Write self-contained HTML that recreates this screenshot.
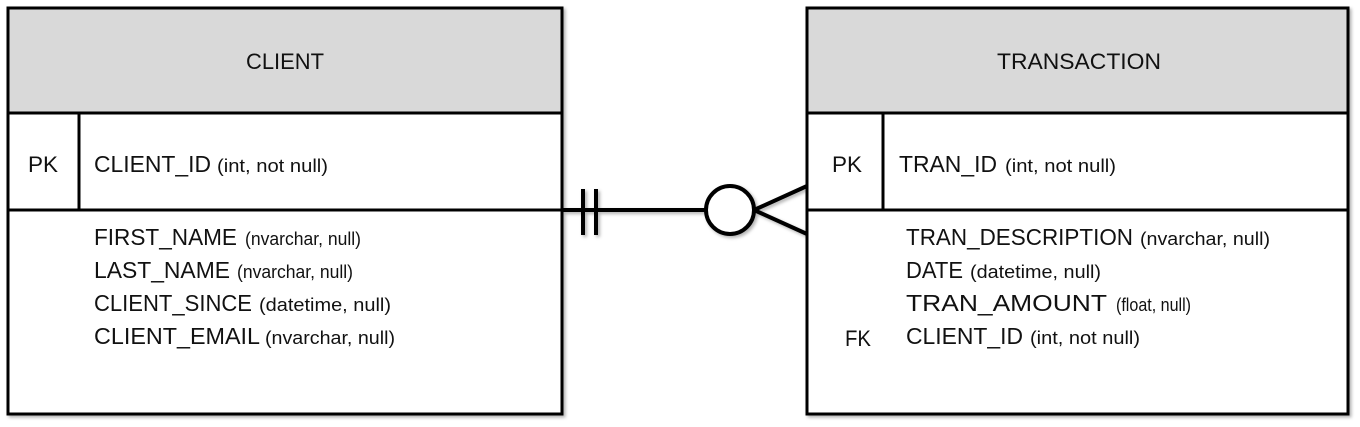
<!DOCTYPE html>
<html><head><style>body{margin:0;background:#fff}svg{display:block}text{font-family:"Liberation Sans",sans-serif;fill:#111}</style></head><body>
<svg width="1360" height="427" viewBox="0 0 1360 427" xmlns="http://www.w3.org/2000/svg">
<defs><filter id="sh" x="-5%" y="-5%" width="110%" height="110%"><feDropShadow dx="2" dy="2" stdDeviation="1.5" flood-color="#000" flood-opacity="0.3"/></filter></defs>
<g filter="url(#sh)">
<rect x="8" y="8" width="554" height="406" fill="#fff" stroke="#000" stroke-width="3"/>
<rect x="8" y="8" width="554" height="105" fill="#d9d9d9" stroke="#000" stroke-width="3"/>
<line x1="79" y1="113" x2="79" y2="210" stroke="#000" stroke-width="3"/>
<line x1="8" y1="210" x2="562" y2="210" stroke="#000" stroke-width="3"/>
<rect x="807" y="8" width="541" height="406" fill="#fff" stroke="#000" stroke-width="3"/>
<rect x="807" y="8" width="541" height="105" fill="#d9d9d9" stroke="#000" stroke-width="3"/>
<line x1="883" y1="113" x2="883" y2="210" stroke="#000" stroke-width="3"/>
<line x1="807" y1="210" x2="1348" y2="210" stroke="#000" stroke-width="3"/>
<line x1="562" y1="210" x2="706" y2="210" stroke="#000" stroke-width="4"/>
<line x1="583" y1="189" x2="583" y2="235" stroke="#000" stroke-width="4"/>
<line x1="596" y1="189" x2="596" y2="235" stroke="#000" stroke-width="4"/>
<circle cx="730" cy="210" r="24" fill="#fff" stroke="#000" stroke-width="4"/>
<line x1="754" y1="210" x2="807" y2="186" stroke="#000" stroke-width="4"/>
<line x1="754" y1="210" x2="807" y2="234" stroke="#000" stroke-width="4"/>
</g>
<g lengthAdjust="spacingAndGlyphs">
<text x="246" y="69" font-size="22" textLength="78" lengthAdjust="spacingAndGlyphs">CLIENT</text>
<text x="997" y="69" font-size="22" textLength="164" lengthAdjust="spacingAndGlyphs">TRANSACTION</text>
<text x="28" y="172" font-size="22" textLength="30" lengthAdjust="spacingAndGlyphs">PK</text>
<text x="832" y="172" font-size="22" textLength="30" lengthAdjust="spacingAndGlyphs">PK</text>
<text x="845" y="346" font-size="22" textLength="26" lengthAdjust="spacingAndGlyphs">FK</text>
</g>
<g font-size="23">
<text x="94" y="172" textLength="117" lengthAdjust="spacingAndGlyphs">CLIENT_ID</text>
<text x="94" y="245" textLength="143" lengthAdjust="spacingAndGlyphs">FIRST_NAME</text>
<text x="94" y="278" textLength="136" lengthAdjust="spacingAndGlyphs">LAST_NAME</text>
<text x="94" y="311" textLength="158" lengthAdjust="spacingAndGlyphs">CLIENT_SINCE</text>
<text x="94" y="344" textLength="166" lengthAdjust="spacingAndGlyphs">CLIENT_EMAIL</text>
<text x="899" y="172" textLength="98" lengthAdjust="spacingAndGlyphs">TRAN_ID</text>
<text x="906" y="245" textLength="227" lengthAdjust="spacingAndGlyphs">TRAN_DESCRIPTION</text>
<text x="906" y="278" textLength="57" lengthAdjust="spacingAndGlyphs">DATE</text>
<text x="906" y="311" textLength="201" lengthAdjust="spacingAndGlyphs">TRAN_AMOUNT</text>
<text x="906" y="344" textLength="117" lengthAdjust="spacingAndGlyphs">CLIENT_ID</text>
</g>
<g font-size="18">
<text x="217" y="172" textLength="111" lengthAdjust="spacingAndGlyphs">(int, not null)</text>
<text x="245" y="245" textLength="116" lengthAdjust="spacingAndGlyphs">(nvarchar, null)</text>
<text x="237" y="278" textLength="116" lengthAdjust="spacingAndGlyphs">(nvarchar, null)</text>
<text x="259" y="311" textLength="132" lengthAdjust="spacingAndGlyphs">(datetime, null)</text>
<text x="265" y="344" textLength="130" lengthAdjust="spacingAndGlyphs">(nvarchar, null)</text>
<text x="1005" y="172" textLength="111" lengthAdjust="spacingAndGlyphs">(int, not null)</text>
<text x="1140" y="245" textLength="130" lengthAdjust="spacingAndGlyphs">(nvarchar, null)</text>
<text x="970" y="278" textLength="131" lengthAdjust="spacingAndGlyphs">(datetime, null)</text>
<text x="1116" y="311" textLength="75" lengthAdjust="spacingAndGlyphs">(float, null)</text>
<text x="1030" y="344" textLength="110" lengthAdjust="spacingAndGlyphs">(int, not null)</text>
</g>
</svg>
</body></html>
